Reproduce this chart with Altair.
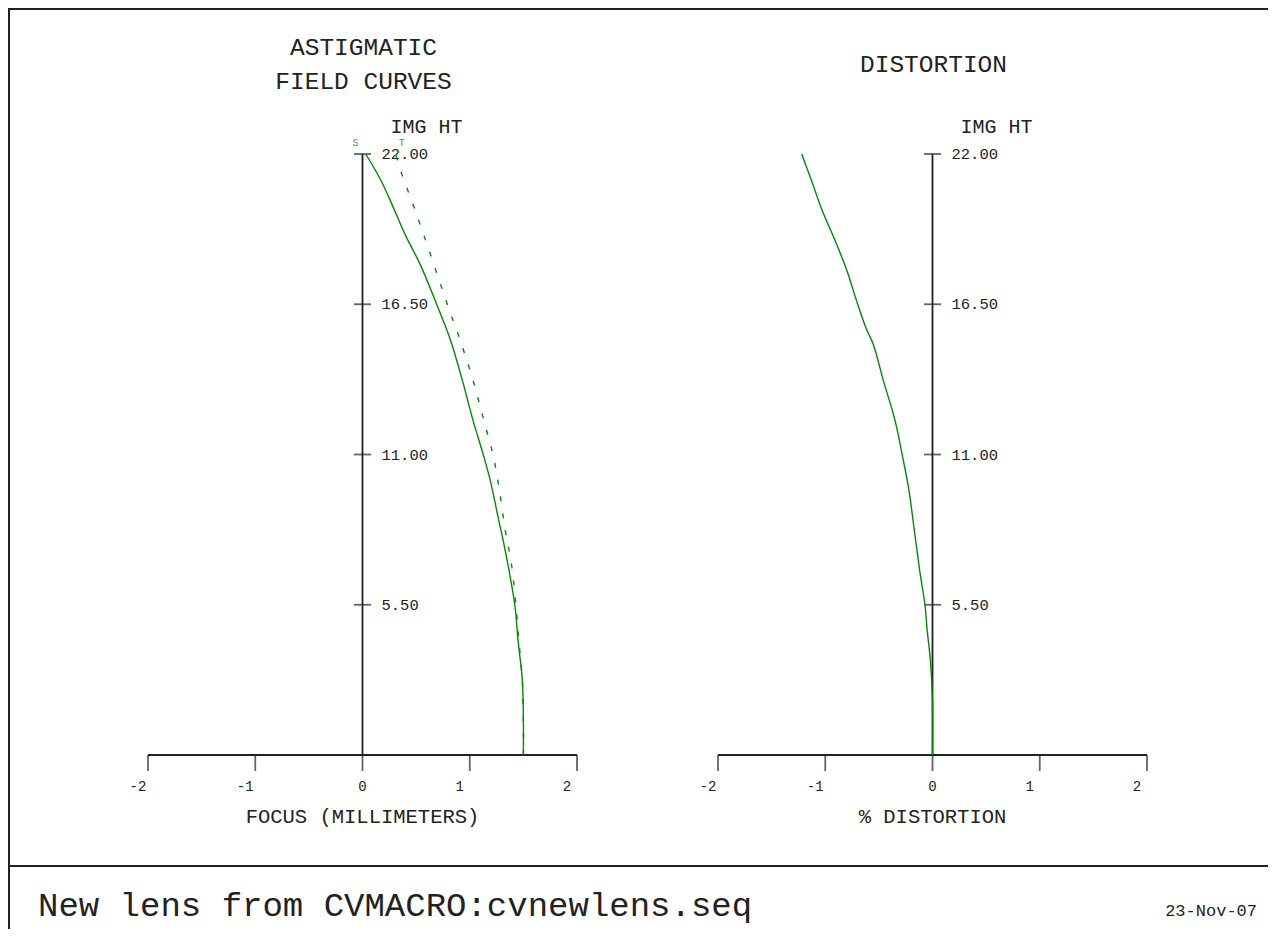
import altair as alt
import pandas as pd

# ---------------- data ----------------
X_TICKS = [-2, -1, 0, 1, 2]
X_TICK_LABELS = ["-2", "-1", "0", "1", "2"]
IMG_HT_TICKS = [5.5, 11.0, 16.5, 22.0]
IMG_HT_LABELS = ["5.50", "11.00", "16.50", "22.00"]

S_HT = [0, 1.28, 2.75, 4.21, 5.49, 7.50, 8.60, 10.07, 10.94, 12.26, 13.73,
        15.19, 16.51, 17.94, 19.03, 20.02, 21.05, 22.0]
S_FOCUS = [1.50, 1.50, 1.49, 1.45, 1.42, 1.33, 1.27, 1.19, 1.13, 1.03, 0.93,
           0.82, 0.69, 0.54, 0.40, 0.29, 0.17, 0.03]

T_HT = [0, 1.28, 2.75, 4.10, 5.49, 6.95, 8.24, 9.59, 10.94, 12.26, 13.73,
        15.19, 16.51, 18.48, 20.06, 21.34, 22.0]
T_FOCUS = [1.50, 1.50, 1.49, 1.46, 1.43, 1.39, 1.33, 1.28, 1.22, 1.13, 1.03,
           0.91, 0.79, 0.62, 0.48, 0.36, 0.31]

DIST_HT = [0, 2.01, 3.48, 4.58, 5.49, 6.77, 8.24, 9.70, 10.94, 12.26, 13.73,
           15.01, 15.63, 16.65, 17.75, 18.85, 19.95, 21.05, 22.0]
DIST = [0, 0, -0.02, -0.05, -0.07, -0.12, -0.17, -0.22, -0.28, -0.35, -0.46,
        -0.55, -0.62, -0.71, -0.80, -0.91, -1.03, -1.13, -1.22]

CURVE_LABELS = ["S", "T"]
CURVE_LABEL_FOCUS = [-0.065, 0.365]
CURVE_LABEL_HT = [22.0, 22.0]

LEFT_TITLE = ["ASTIGMATIC", "FIELD CURVES"]
RIGHT_TITLE = ["DISTORTION"]
LEFT_XLABEL = "FOCUS (MILLIMETERS)"
RIGHT_XLABEL = "% DISTORTION"
YLABEL = "IMG HT"
FOOTER = "New lens from CVMACRO:cvnewlens.seq"
DATE = "23-Nov-07"

# ---------------- style ----------------
FONT = "Courier New, Liberation Mono, monospace"
GREEN = "#0a850a"
LABEL_GREEN = "#3aa03a"
INK = "#222222"
W, H = 1260, 921

YS = alt.Scale(domain=[0, 22], range=[747, 146], zero=False, nice=False)


def panel(xscale, curves, titles, title_y, xlabel):
    X = lambda f: alt.X(f, type="quantitative", scale=xscale, axis=None)
    Y = lambda f: alt.Y(f, type="quantitative", scale=YS, axis=None)

    layers = []
    # axis lines
    hline = alt.Chart(pd.DataFrame({"a": [X_TICKS[0]], "b": [X_TICKS[-1]], "y": [0]})).mark_rule(
        color=INK, strokeWidth=1.8).encode(x=X("a"), x2="b", y=Y("y"))
    vline = alt.Chart(pd.DataFrame({"x": [0], "a": [0], "b": [IMG_HT_TICKS[-1]]})).mark_rule(
        color=INK, strokeWidth=1.8).encode(x=X("x"), y=Y("a"), y2="b")
    xt = pd.DataFrame({"v": X_TICKS, "lab": X_TICK_LABELS, "y": [0] * len(X_TICKS)})
    xticks = alt.Chart(xt).mark_tick(orient="vertical", size=16, thickness=1.8,
                                     yOffset=8, color=INK).encode(x=X("v"), y=Y("y"))
    xlabs = alt.Chart(xt).transform_filter("datum.v != 0").mark_text(
        font=FONT, fontSize=14, color=INK, dx=-10, dy=32, baseline="middle").encode(
        x=X("v"), y=Y("y"), text="lab:N")
    xlab0 = alt.Chart(xt).transform_filter("datum.v == 0").mark_text(
        font=FONT, fontSize=14, color=INK, dy=32, baseline="middle").encode(
        x=X("v"), y=Y("y"), text="lab:N")
    yt = pd.DataFrame({"v": IMG_HT_TICKS, "lab": IMG_HT_LABELS, "x": [0] * len(IMG_HT_TICKS)})
    yticks = alt.Chart(yt).mark_tick(orient="horizontal", size=17, thickness=1.8,
                                     color=INK).encode(x=X("x"), y=Y("v"))
    ylabs = alt.Chart(yt).mark_text(font=FONT, fontSize=15.5, color=INK, align="left",
                                    dx=19, baseline="middle").encode(
        x=X("x"), y=Y("v"), text="lab:N")
    ytitle = alt.Chart(pd.DataFrame({"x": [0], "y": [IMG_HT_TICKS[-1]], "t": [YLABEL]})).mark_text(
        font=FONT, fontSize=20, color=INK, dx=64, dy=-27, baseline="middle").encode(
        x=X("x"), y=Y("y"), text="t:N")
    xtitle = alt.Chart(pd.DataFrame({"x": [0], "y": [0], "t": [xlabel]})).mark_text(
        font=FONT, fontSize=20.5, color=INK, dy=62, baseline="middle").encode(
        x=X("x"), y=Y("y"), text="t:N")
    layers += [hline, vline, xticks, xlabs, xlab0, yticks, ylabs, ytitle, xtitle]

    for i, t in enumerate(titles):
        layers.append(alt.Chart(pd.DataFrame({"x": [0], "t": [t]})).mark_text(
            font=FONT, fontSize=24.5, color=INK, baseline="middle", dx=1).encode(
            x=X("x"), y=alt.value(title_y[i]), text="t:N"))

    for df, dash in curves:
        m = dict(color=GREEN, strokeWidth=1.4, interpolate="catmull-rom")
        if dash:
            m["strokeDash"] = dash
        layers.append(alt.Chart(df).mark_line(**m).encode(
            x=X("f"), y=Y("h"), order="h:Q"))
    return alt.layer(*layers)


s_df = pd.DataFrame({"f": S_FOCUS, "h": S_HT})
t_df = pd.DataFrame({"f": T_FOCUS, "h": T_HT})
d_df = pd.DataFrame({"f": DIST, "h": DIST_HT})

XL = alt.Scale(domain=[-2, 2], range=[140, 569], zero=False, nice=False)
XR = alt.Scale(domain=[-2, 2], range=[710, 1139], zero=False, nice=False)

left = panel(XL, [(s_df, None), (t_df, [5, 12])], LEFT_TITLE, [40, 74], LEFT_XLABEL)
lab_df = pd.DataFrame({"lab": CURVE_LABELS, "f": CURVE_LABEL_FOCUS, "h": CURVE_LABEL_HT})
curve_labels = alt.Chart(lab_df).mark_text(font=FONT, fontSize=10, color=LABEL_GREEN,
                                           dy=-11, baseline="middle").encode(
    x=alt.X("f:Q", scale=XL, axis=None), y=alt.Y("h:Q", scale=YS, axis=None), text="lab:N")
left = alt.layer(left, curve_labels)

right = panel(XR, [(d_df, None)], RIGHT_TITLE, [57], RIGHT_XLABEL)

one = pd.DataFrame({"a": [0]})
frame_top = alt.Chart(one).mark_rule(color=INK, strokeWidth=2).encode(
    x=alt.value(0), x2=alt.value(W), y=alt.value(1))
frame_left = alt.Chart(one).mark_rule(color=INK, strokeWidth=2).encode(
    x=alt.value(1), y=alt.value(0), y2=alt.value(H))
sep = alt.Chart(one).mark_rule(color=INK, strokeWidth=2).encode(
    x=alt.value(0), x2=alt.value(W), y=alt.value(858))
footer = alt.Chart(pd.DataFrame({"t": [FOOTER]})).mark_text(
    font=FONT, fontSize=34, color=INK, align="left", baseline="middle").encode(
    x=alt.value(30), y=alt.value(898), text="t:N")
date = alt.Chart(pd.DataFrame({"t": [DATE]})).mark_text(
    font=FONT, fontSize=17, color=INK, align="right", baseline="middle").encode(
    x=alt.value(1249), y=alt.value(903), text="t:N")

chart = alt.layer(frame_top, frame_left, sep, footer, date, left, right).resolve_scale(
    x="independent").properties(
    width=W, height=H, autosize=alt.AutoSizeParams(type="none"), padding=0
).configure_view(stroke=None)

chart.save("out.html", embed_options={"renderer": "svg", "actions": False})
